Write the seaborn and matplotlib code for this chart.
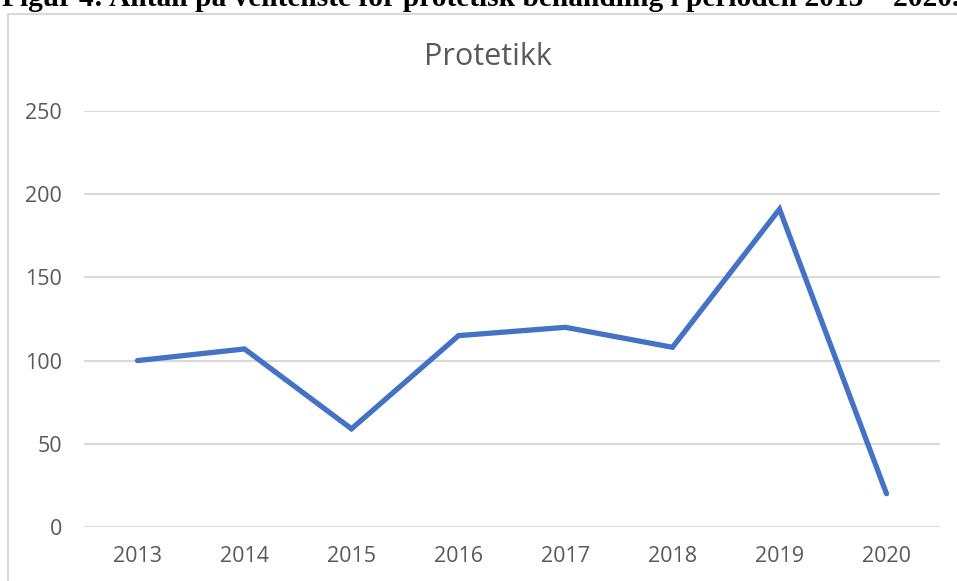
import matplotlib.pyplot as plt
import seaborn as sns
import pandas as pd
from matplotlib.patches import Rectangle

# Data
years = ['2013', '2014', '2015', '2016', '2017', '2018', '2019', '2020']
antall = [100, 107, 59, 115, 120, 108, 191, 20]
y_ticks = [0, 50, 100, 150, 200, 250]

df = pd.DataFrame({'year': years, 'antall': antall})

sns.set_style("white")
plt.rcParams['font.family'] = ['Open Sans', 'DejaVu Sans']

W, H = 957, 581
fig = plt.figure(figsize=(W / 100, H / 100), dpi=100)

# Chart frame (extends past right and bottom edge)
fig.patches.append(Rectangle((8 / W, -0.1), 1.2, 1 - 14 / H + 0.1,
                             transform=fig.transFigure, fill=False,
                             edgecolor='#D9D9D9', linewidth=1.5))

# Cut-off caption at top (as in the source document)
fig.text(0.002, 1 - 6 / H, 'Figur 4: Antall på venteliste for protetisk behandling i perioden 2013 – 2020.',
         fontsize=21.2, fontweight='bold', family=['Liberation Serif', 'DejaVu Serif'],
         va='baseline', ha='left', color='black')

ax = fig.add_axes([84 / W, 1 - 527 / H, (940 - 84) / W, (527 - 111) / H])
sns.lineplot(data=df, x='year', y='antall', ax=ax, color='#4472C4',
             linewidth=3.8, sort=False, solid_capstyle='round', solid_joinstyle='miter')

ax.set_xlim(-0.5, len(years) - 0.5)
ax.set_ylim(0, 250)
ax.set_yticks(y_ticks)
ax.yaxis.grid(True, color='#D9D9D9', linewidth=1.5)
ax.xaxis.grid(False)
ax.set_axisbelow(True)
for s in ax.spines.values():
    s.set_visible(False)
ax.tick_params(axis='both', length=0, labelsize=15.5, labelcolor='#595959')
ax.tick_params(axis='y', pad=16)
ax.tick_params(axis='x', pad=14)
ax.set_xlabel('')
ax.set_ylabel('')

fig.text(488 / W, 1 - 57 / H, 'Protetikk', fontsize=22, color='#595959',
         ha='center', va='center')

fig.savefig('out.png', dpi=100)
